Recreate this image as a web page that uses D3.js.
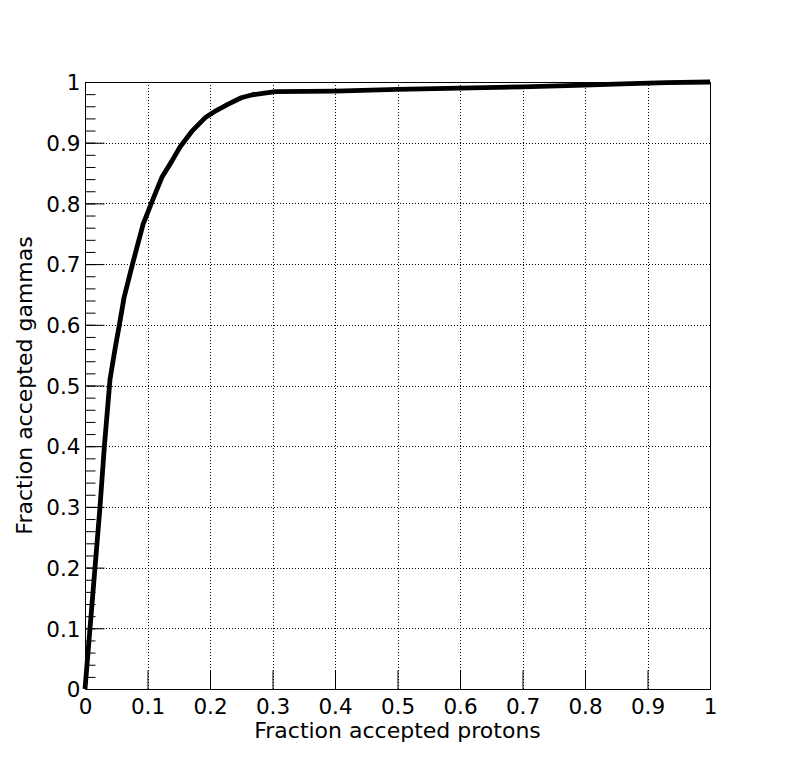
<!DOCTYPE html>
<html><head><meta charset="utf-8">
<script src="https://cdn.jsdelivr.net/npm/d3@7"></script>
<style>body{margin:0;background:#fff}svg{display:block}text{font-family:"DejaVu Sans",sans-serif;fill:#000}</style>
</head><body><svg id="c" width="798" height="774"></svg>
<script>
const xTicks = [0,0.1,0.2,0.3,0.4,0.5,0.6,0.7,0.8,0.9,1];
const xTickLabels = ["0","0.1","0.2","0.3","0.4","0.5","0.6","0.7","0.8","0.9","1"];
const yTicks = [0,0.1,0.2,0.3,0.4,0.5,0.6,0.7,0.8,0.9,1];
const yTickLabels = ["0","0.1","0.2","0.3","0.4","0.5","0.6","0.7","0.8","0.9","1"];
const protons = [0,0.008,0.016,0.024,0.031,0.04,0.048,0.055,0.0625,0.076,0.093,0.108,0.123,0.138,0.152,0.172,0.192,0.21,0.23,0.25,0.268,0.29,0.305,0.4,0.5,0.6,0.7,0.8,0.86,0.93,1.0];
const gammas  = [0,0.1,0.2,0.3,0.4,0.51,0.56,0.6,0.645,0.70,0.766,0.805,0.843,0.868,0.893,0.92,0.941,0.953,0.964,0.974,0.979,0.982,0.984,0.985,0.988,0.990,0.992,0.995,0.997,0.999,1.0];

const L=85,R=710,T=82,B=689;
const svg=d3.select("#c");
const x=d3.scaleLinear().domain([0,1]).range([L,R]);
const y=d3.scaleLinear().domain([0,1]).range([B,T]);

// grid
const g=svg.append("g");
g.selectAll(".gx").data(xTicks.slice(1,-1)).enter().append("line")
 .attr("x1",d=>Math.round(x(d))+0.5).attr("x2",d=>Math.round(x(d))+0.5).attr("y1",T).attr("y2",B)
 .attr("stroke","#000").attr("stroke-width",1).attr("stroke-dasharray","1,2");
g.selectAll(".gy").data(yTicks.slice(1,-1)).enter().append("line")
 .attr("y1",d=>Math.round(y(d))+0.5).attr("y2",d=>Math.round(y(d))+0.5).attr("x1",L).attr("x2",R)
 .attr("stroke","#000").attr("stroke-width",1).attr("stroke-dasharray","1,2");

// axes
const xAxis=d3.axisBottom(x).tickValues(xTicks).tickSize(-19).tickFormat((d,i)=>xTickLabels[i]);
const ax=svg.append("g").attr("transform",`translate(0,${B+0.5})`).call(xAxis);
ax.select(".domain").remove();
ax.selectAll("text").attr("y",24.5).attr("dy",0).style("font-size","21.5px").style("font-family","DejaVu Sans, sans-serif");

const yMinor=d3.range(0,1.0001,0.02);
const ayMinor=svg.append("g").attr("transform",`translate(${L+0.5},0)`).call(d3.axisLeft(y).tickValues(yMinor).tickSize(-10).tickFormat(""));
ayMinor.select(".domain").remove();
const yAxis=d3.axisLeft(y).tickValues(yTicks).tickSize(-19).tickFormat((d,i)=>yTickLabels[i]);
const ay=svg.append("g").attr("transform",`translate(${L+0.5},0)`).call(yAxis);
ay.select(".domain").remove();
ay.selectAll("text").attr("x",-5).attr("dy","0.36em").style("font-size","21.5px").style("font-family","DejaVu Sans, sans-serif");

// frame
svg.append("rect").attr("x",L+0.5).attr("y",T+0.5).attr("width",R-L).attr("height",B-T)
 .attr("fill","none").attr("stroke","#000").attr("stroke-width",1);

// curve
const pts=protons.map((p,i)=>[p,gammas[i]]);
svg.append("path").datum(pts).attr("fill","none").attr("stroke","#000").attr("stroke-width",4.8)
 .attr("stroke-linejoin","round")
 .attr("d",d3.line().x(d=>x(d[0])).y(d=>y(d[1])));

// titles
svg.append("text").attr("x",(L+R)/2).attr("y",738).attr("text-anchor","middle").style("font-size","22px").text("Fraction accepted protons");
svg.append("text").attr("transform",`translate(32,${(T+B)/2}) rotate(-90)`).attr("text-anchor","middle").style("font-size","22px").text("Fraction accepted gammas");
</script></body></html>
